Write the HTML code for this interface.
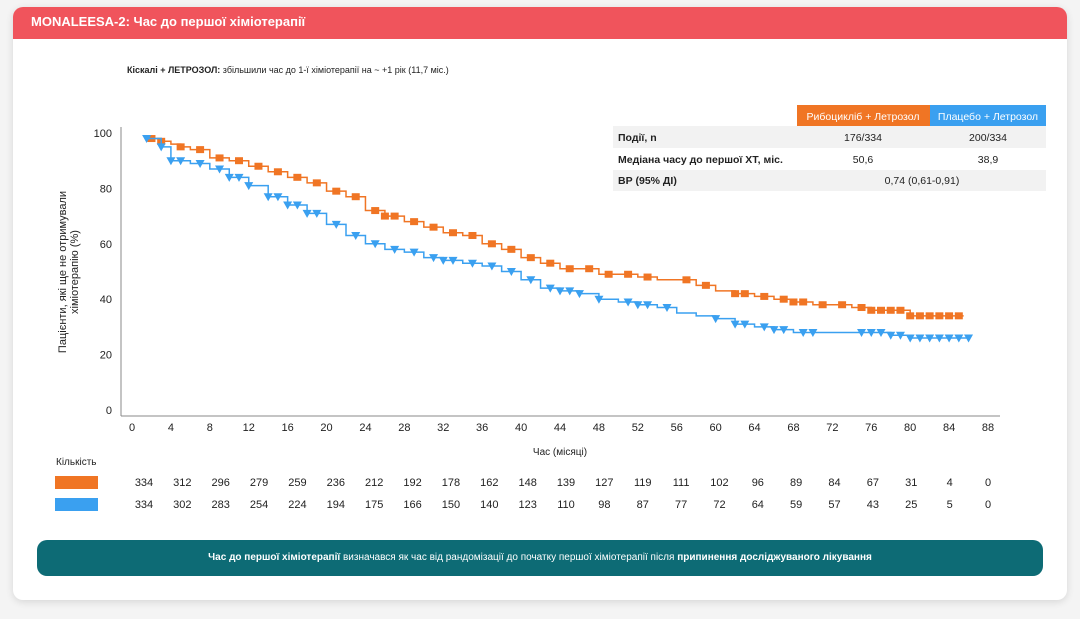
<!DOCTYPE html>
<html><head><meta charset="utf-8">
<style>
body{margin:0;width:1080px;height:619px;background:#f4f4f4;font-family:"Liberation Sans",sans-serif;position:relative;overflow:hidden}
.card{position:absolute;left:13px;top:7px;width:1054px;height:593px;background:#fff;border-radius:10px;box-shadow:0 2px 8px rgba(0,0,0,.12)}
.hdr{position:absolute;left:13px;top:7px;width:1054px;height:32px;background:#f0545c;border-radius:10px 10px 0 0;color:#fff;font-weight:bold;font-size:13px;line-height:30px;padding-left:18px;box-sizing:border-box}
.foot{position:absolute;left:37px;top:540px;width:1006px;height:36px;background:#0d6b75;border-radius:10px;color:#fff;font-size:10px;text-align:center;line-height:36px}
</style></head><body>
<div class="card"></div>
<div class="hdr">MONALEESA-2: Час до першої хіміотерапії</div>
<div class="foot"><b>Час до першої хіміотерапії</b> визначався як час від рандомізації до початку першої хіміотерапії після <b>припинення досліджуваного лікування</b></div>
<svg id="ch" width="1080" height="619" style="position:absolute;left:0;top:0" font-family="Liberation Sans, sans-serif">
<text x="127" y="73" font-size="9" fill="#222"><tspan font-weight="bold">Кіскалі + ЛЕТРОЗОЛ:</tspan> збільшили час до 1-ї хіміотерапії на ~ +1 рік (11,7 міс.)</text>
<rect x="797" y="105" width="133" height="21" fill="#f07524"/>
<text x="863" y="120" font-size="10.5" fill="#fff" text-anchor="middle">Рибоцикліб + Летрозол</text>
<rect x="930" y="105" width="116" height="21" fill="#3aa0f0"/>
<text x="988" y="120" font-size="10.5" fill="#fff" text-anchor="middle">Плацебо + Летрозол</text>
<rect x="613" y="126" width="433" height="22" fill="#f2f2f2"/>
<rect x="613" y="170" width="433" height="21" fill="#f2f2f2"/>
<g font-size="10.5" fill="#222">
<text x="618" y="141" font-weight="bold">Події, n</text><text x="863" y="141" text-anchor="middle">176/334</text><text x="988" y="141" text-anchor="middle">200/334</text>
<text x="618" y="163" font-weight="bold">Медіана часу до першої ХТ, міс.</text><text x="863" y="163" text-anchor="middle">50,6</text><text x="988" y="163" text-anchor="middle">38,9</text>
<text x="618" y="184" font-weight="bold">ВР (95% ДІ)</text><text x="922" y="184" text-anchor="middle">0,74 (0,61-0,91)</text>
</g>
<line x1="121" y1="127" x2="121" y2="416" stroke="#888"/>
<line x1="121" y1="416" x2="1000" y2="416" stroke="#888"/>
<g id="ticks" font-size="11" fill="#222"></g>
<text x="66" y="272" font-size="11" fill="#222" text-anchor="middle" transform="rotate(-90 66 272)"><tspan x="66" dy="0">Пацієнти, які ще не отримували</tspan><tspan x="66" dy="12">хіміотерапію (%)</tspan></text>
<text x="560" y="455" font-size="10" fill="#222" text-anchor="middle">Час (місяці)</text>
<text x="56" y="465" font-size="10" fill="#222">Кількість</text>
<rect x="55" y="476" width="43" height="13" fill="#f07524"/>
<rect x="55" y="498" width="43" height="13" fill="#3aa0f0"/>
<g id="series"></g>
<g id="risk" font-size="11" fill="#222"></g>
</svg>
<script>
const xTicks=[0,4,8,12,16,20,24,28,32,36,40,44,48,52,56,60,64,68,72,76,80,84,88];
const yTicks=[0,20,40,60,80,100];
const orangeT=[1.5,3,4,5,6,8,10,12,14,16,18,20,22,24,26,28,30,32,34,36,38,40,42,44,46,48,50,52,54,56,58,60,62,64,66,68,70,72,74,76,78,80,82,84,85.5];
const orangeS=[98,97,96,95,94,91,90,88,86,84,82,79,77,72,70,68,66,64,63,60,58,55,53,51,51,49,49,48,47,47,45,43,42,41,40,39,38,38,37,36,36,34,34,34,34];
const blueT=[1.5,3,4,6,8,10,12,14,16,18,20,22,24,26,28,30,32,34,36,38,40,42,44,46,48,50,52,54,56,58,60,62,64,66,68,70,72,74,76,78,80,84,86];
const blueS=[98,95,90,89,87,84,81,77,74,71,67,63,60,58,57,55,54,53,52,50,47,44,43,42,40,39,38,37,35,34,33,31,30,29,28,28,28,28,28,27,26,26,26];
const orangeCens=[2,3,5,7,9,11,13,15,17,19,21,23,25,26,27,29,31,33,35,37,39,41,43,45,47,49,51,53,57,59,62,63,65,67,68,69,71,73,75,76,77,78,79,80,81,82,83,84,85];
const blueCens=[1.5,3,4,5,7,9,10,11,12,14,15,16,17,18,19,21,23,25,27,29,31,32,33,35,37,39,41,43,44,45,46,48,51,52,53,55,60,62,63,65,66,67,69,70,75,76,77,78,79,80,81,82,83,84,85,86];
const riskO=[334,312,296,279,259,236,212,192,178,162,148,139,127,119,111,102,96,89,84,67,31,4,0];
const riskB=[334,302,283,254,224,194,175,166,150,140,123,110,98,87,77,72,64,59,57,43,25,5,0];
const X=m=>132+m*(856/88), Y=v=>410-v*2.77;
const NS='http://www.w3.org/2000/svg';
function mk(t,a,p){const e=document.createElementNS(NS,t);for(const k in a)e.setAttribute(k,a[k]);p.appendChild(e);return e;}
const tk=document.getElementById('ticks');
xTicks.forEach(v=>{const t=mk('text',{x:X(v),y:431,'text-anchor':'middle'},tk);t.textContent=v;

});
yTicks.forEach(v=>{const t=mk('text',{x:112,y:Y(v)+4,'text-anchor':'end'},tk);t.textContent=v;

});
const sg=document.getElementById('series');
function stepAt(T,S,m){let v=S[0];for(let i=0;i<T.length;i++){if(T[i]<=m)v=S[i];}return v;}
function draw(T,S,C,col,name,tri){
 let d='M'+X(T[0])+','+Y(S[0]);
 for(let i=1;i<T.length;i++){d+=' H'+X(T[i])+' V'+Y(S[i]);}
 const p=mk('path',{d:d,fill:'none',stroke:col,'stroke-width':1.5},sg);
 
 
 C.forEach(m=>{const x=X(m),y=Y(stepAt(T,S,m));let e;
  if(tri)e=mk('path',{d:`M${x-4.5},${y-3.5} L${x+4.5},${y-3.5} L${x},${y+4.5} Z`,fill:col},sg);
  else e=mk('rect',{x:x-4,y:y-3.5,width:8,height:7,fill:col},sg);
  
  });
}
draw(orangeT,orangeS,orangeCens,'#f07524','ribociclib',false);
draw(blueT,blueS,blueCens,'#3aa0f0','placebo',true);
const rg=document.getElementById('risk');
xTicks.forEach((v,i)=>{
 const rx=144+i*(844/22);
 const a=mk('text',{x:rx,y:486,'text-anchor':'middle'},rg);a.textContent=riskO[i];
 
 
 const b=mk('text',{x:rx,y:508,'text-anchor':'middle'},rg);b.textContent=riskB[i];
 
 
});
</script>
</body></html>
